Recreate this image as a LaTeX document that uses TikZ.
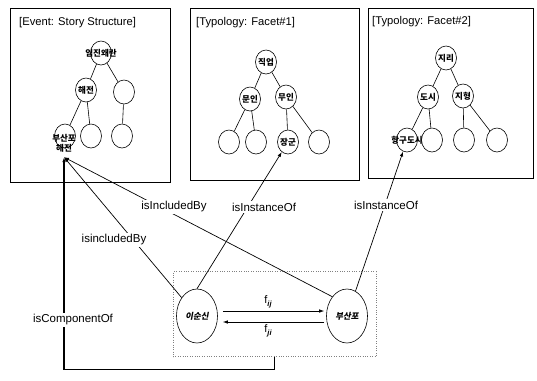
\documentclass[tikz,border=0pt]{standalone}
\usepackage{fontspec}
\setmainfont{Liberation Sans}
\newfontfamily\kr{Noto Sans CJK KR}
\newfontfamily\krs{Noto Sans CJK KR}[FakeSlant=0.18]
\usetikzlibrary{shapes.geometric,arrows.meta}
\newcommand{\relsub}[1]{\raisebox{-2.5pt}{\fontsize{7.5}{8}\selectfont\bfseries\itshape #1}}
\begin{document}
\begin{tikzpicture}[x=1pt,y=-1pt,
  frame/.style={draw, line width=0.9pt, rectangle, inner sep=0pt},
  ttl/.style={anchor=west, font=\fontsize{11.2}{13}\selectfont, inner sep=0pt},
  tn/.style={draw, ellipse, minimum width=21pt, minimum height=24pt, inner sep=0pt, line width=0.6pt},
  kt/.style={font=\kr\bfseries\fontsize{8.5}{10}\selectfont, inner sep=0pt},
  ks/.style={font=\krs\bfseries\fontsize{8.5}{10}\selectfont, inner sep=0pt},
  bign/.style={draw, ellipse, minimum width=41pt, minimum height=54pt, inner sep=0pt, line width=0.6pt},
  edge/.style={line width=0.6pt},
  rel/.style={line width=0.7pt, -{Latex[length=5pt,width=3.5pt]}},
  lab/.style={fill=white, font=\fontsize{11.5}{13}\selectfont, inner sep=1.5pt},
  fl/.style={inner sep=0pt, font=\fontsize{11}{13}\selectfont},
]
\useasboundingbox (0,0) rectangle (537,380);

% three hierarchy frames
\node[frame, minimum width=160pt, minimum height=174pt] (fA) at (90,95) {};
\node[frame, minimum width=169pt, minimum height=172pt] (fB) at (274.5,94) {};
\node[frame, minimum width=165pt, minimum height=170pt] (fC) at (450.5,93) {};
\node[ttl] (tA) at (19,23) {[Event: Story Structure]};
\node[ttl] (tB) at (196,23) {[Typology: Facet\#1]};
\node[ttl] (tC) at (372,22) {[Typology: Facet\#2]};

% event tree
\node[tn, label={[kt]center:임진왜란}] (a0) at (101,53) {};
\node[tn, label={[kt]center:해전}] (a1) at (86,90) {};
\node[tn] (a2) at (124,92) {};
\node[tn] (a3) at (65,136) {};
\node[tn] (a4) at (91,136) {};
\node[tn] (a5) at (122,136) {};
\node[kt, align=center] (a3t) at (64,143) {부산포\\해전};
\draw[edge] (a0) -- (a1);
\draw[edge] (a0) -- (a2);
\draw[edge] (a1) -- (a3);
\draw[edge] (a1) -- (a4);
\draw[edge] (a2) -- (a5);

% occupation facet
\node[tn, label={[kt]center:직업}] (b0) at (266,62) {};
\node[tn, label={[kt]center:문인}] (b1) at (250,99) {};
\node[tn, label={[kt]center:무인}] (b2) at (286,97) {};
\node[tn] (b3) at (229,142) {};
\node[tn] (b4) at (256,142) {};
\node[tn, label={[kt]center:장군}] (b5) at (288,142) {};
\node[tn] (b6) at (319,142) {};
\draw[edge] (b0) -- (b1);
\draw[edge] (b0) -- (b2);
\draw[edge] (b1) -- (b3);
\draw[edge] (b1) -- (b4);
\draw[edge] (b2) -- (b5);
\draw[edge] (b2) -- (b6);

% geography facet
\node[tn, label={[kt]center:지리}] (c0) at (446,58) {};
\node[tn, label={[kt]center:도시}] (c1) at (428,97) {};
\node[tn, label={[kt]center:지형}] (c2) at (463,96) {};
\node[tn, label={[kt]center:항구도시}] (c3) at (407,140) {};
\node[tn] (c4) at (432,140) {};
\node[tn] (c5) at (464,140) {};
\node[tn] (c6) at (497,140) {};
\draw[edge] (c0) -- (c1);
\draw[edge] (c0) -- (c2);
\draw[edge] (c1) -- (c3);
\draw[edge] (c1) -- (c4);
\draw[edge] (c2) -- (c5);
\draw[edge] (c2) -- (c6);

% instance pair
\node[draw=gray, dotted, minimum width=203pt, minimum height=85pt] (dbox) at (274.5,314) {};
\node[bign, label={[ks]center:이순신}] (ys) at (197,316) {};
\node[bign, label={[ks]center:부산포}] (bs) at (347,316) {};
\draw[rel] ([shift={(5pt,5pt)}]ys.east) -- ([shift={(-2pt,5pt)}]bs.west);
\draw[rel] ([shift={(-2pt,-6pt)}]bs.west) -- ([shift={(5pt,-6pt)}]ys.east);
\node[fl] (fij) at (268,302) {f\relsub{ij}};
\node[fl] (fji) at (268,331) {f\relsub{ji}};

% relations to the hierarchies
\draw[rel] (ys) -- ([yshift=-5pt]a3t.south);
\draw[rel] (bs.north west) -- ([yshift=-5pt]a3t.south);
\draw[rel, line width=1.1pt] (dbox.south) -- ++(0,13) -| ([yshift=-5pt]a3t.south);
\draw[rel] (ys.north) -- (b5);
\draw[rel] (bs) -- (c3);

\node[lab] (l1) at (174,207) {isIncludedBy};
\node[lab] (l2) at (264,207) {isInstanceOf};
\node[lab] (l3) at (386,205) {isInstanceOf};
\node[lab] (l4) at (114,240) {isincludedBy};
\node[lab] (l5) at (73,320) {isComponentOf};
\end{tikzpicture}
\end{document}
